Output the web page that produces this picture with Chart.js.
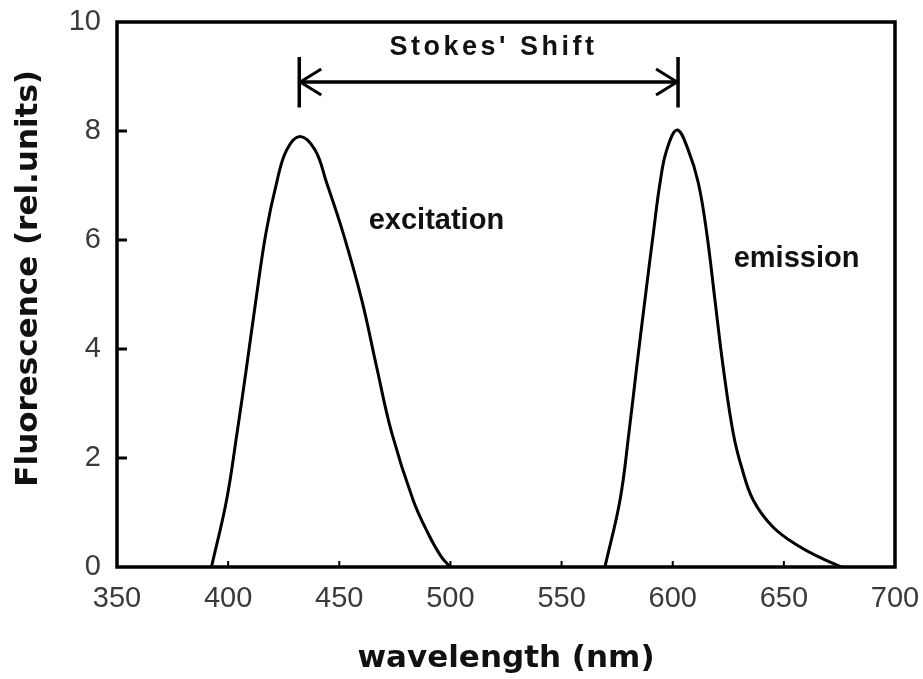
<!DOCTYPE html>
<html>
<head>
<meta charset="utf-8">
<title>Stokes' Shift</title>
<script src="https://cdn.jsdelivr.net/npm/chart.js@4.4.1/dist/chart.umd.min.js"></script>
<style>
  html, body { margin: 0; padding: 0; background: #fff; }
  #wrap { width: 923px; height: 679px; position: relative; }
</style>
</head>
<body>
<div id="wrap"><canvas id="chart1"></canvas></div>
<script>
// wavelength (nm) / fluorescence
const excitationNm = [392.5, 399.3, 404.0, 408.3, 412.5, 417.0, 421.8, 426.3, 432.3, 439.1, 444.3, 451.7, 460.1, 466.8, 473.6, 483.2, 489.9, 496.0, 500.0];
const excitationF  = [0, 1.23, 2.46, 3.67, 4.90, 6.13, 7.05, 7.65, 7.90, 7.65, 7.05, 6.13, 4.90, 3.67, 2.46, 1.23, 0.62, 0.18, 0];

const emissionNm = [569.5, 576.3, 580.3, 583.8, 587.5, 591.3, 594.3, 597.3, 602.0, 607.0, 611.5, 615.3, 619.0, 622.7, 627.2, 631.0, 636.2, 645.2, 657.2, 667.6, 676.0];
const emissionF  = [0, 1.23, 2.46, 3.67, 4.90, 6.13, 7.05, 7.65, 8.02, 7.65, 7.05, 6.13, 4.90, 3.67, 2.46, 1.83, 1.23, 0.73, 0.37, 0.15, 0];

// axes
const xRange = [350, 700];
const yRange = [0, 10];
const xStep = 50;
const yStep = 2;

// annotations (data units)
const shiftNm = [432, 602.4];
const shiftF = 8.9;
const shiftBarF = [8.43, 9.36];
const shiftText = "Stokes' Shift";
const shiftTextPos = [518.5, 9.54];
const curveLabels = ['excitation', 'emission'];
const curveLabelNm = [493.7, 655.7];
const curveLabelF = [6.35, 5.65];

function pts(xs, ys) {
    return xs.map((v, i) => ({ x: v, y: ys[i] }));
}

const decor = {
    id: 'decor',
    afterDatasetsDraw(chart) {
        const { ctx, chartArea: a, scales: { x, y } } = chart;
        ctx.save();
        ctx.strokeStyle = '#000';
        ctx.lineCap = 'butt';

        // inward ticks
        ctx.lineWidth = 3;
        y.ticks.forEach(t => {
            if (t.value <= yRange[0] || t.value >= yRange[1]) return;
            const py = y.getPixelForValue(t.value);
            ctx.beginPath(); ctx.moveTo(a.left, py); ctx.lineTo(a.left + 10, py); ctx.stroke();
        });
        ctx.lineWidth = 2;
        x.ticks.forEach(t => {
            if (t.value <= xRange[0] || t.value >= xRange[1]) return;
            const px = x.getPixelForValue(t.value);
            ctx.beginPath(); ctx.moveTo(px, a.bottom); ctx.lineTo(px, a.bottom - 6); ctx.stroke();
        });

        // frame
        ctx.lineWidth = 3.5;
        ctx.strokeRect(a.left, a.top, a.right - a.left, a.bottom - a.top);

        // Stokes' shift arrow
        const x1 = x.getPixelForValue(shiftNm[0]);
        const x2 = x.getPixelForValue(shiftNm[1]);
        const ya = y.getPixelForValue(shiftF);
        const yb0 = y.getPixelForValue(shiftBarF[0]);
        const yb1 = y.getPixelForValue(shiftBarF[1]);
        ctx.lineWidth = 3.5;
        ctx.beginPath();
        ctx.moveTo(x1, ya); ctx.lineTo(x2, ya);
        ctx.moveTo(x1, yb0); ctx.lineTo(x1, yb1);
        ctx.moveTo(x2, yb0); ctx.lineTo(x2, yb1);
        ctx.stroke();
        ctx.lineWidth = 3;
        ctx.beginPath();
        ctx.moveTo(x1 + 22, ya - 13); ctx.lineTo(x1 + 1, ya); ctx.lineTo(x1 + 22, ya + 13);
        ctx.moveTo(x2 - 22, ya - 13); ctx.lineTo(x2 - 1, ya); ctx.lineTo(x2 - 22, ya + 13);
        ctx.stroke();

        // texts
        ctx.fillStyle = '#111';
        ctx.textAlign = 'center';
        ctx.textBaseline = 'middle';
        ctx.font = 'bold 27px "Liberation Sans", Arial, sans-serif';
        ctx.letterSpacing = '3.5px';
        ctx.fillText(shiftText, x.getPixelForValue(shiftTextPos[0]) + 2, y.getPixelForValue(shiftTextPos[1]));
        ctx.letterSpacing = '0px';
        ctx.font = 'bold 29px "Liberation Sans", Arial, sans-serif';
        curveLabels.forEach((s, i) => {
            ctx.fillText(s, x.getPixelForValue(curveLabelNm[i]), y.getPixelForValue(curveLabelF[i]));
        });
        ctx.restore();
    }
};

const lineStyle = {
    borderColor: '#000',
    borderWidth: 3,
    pointRadius: 0,
    fill: false,
    tension: 0.4
};

new Chart(document.getElementById('chart1'), {
    type: 'line',
    data: {
        datasets: [
            { label: 'excitation', data: pts(excitationNm, excitationF), ...lineStyle },
            { label: 'emission', data: pts(emissionNm, emissionF), ...lineStyle }
        ]
    },
    options: {
        responsive: true,
        maintainAspectRatio: false,
        animation: false,
        layout: { padding: { left: 0, top: 22, right: 28, bottom: 0 } },
        plugins: { legend: { display: false }, tooltip: { enabled: false } },
        scales: {
            x: {
                type: 'linear',
                min: xRange[0], max: xRange[1],
                grid: { display: false, drawTicks: false },
                border: { display: false },
                ticks: {
                    stepSize: xStep, padding: 15, color: '#3a3a3a',
                    font: { family: '"Liberation Sans", Arial, sans-serif', size: 29 }
                },
                title: {
                    display: true, text: 'wavelength (nm)', color: '#111',
                    font: { family: '"DejaVu Sans", sans-serif', size: 31, weight: 'bold' },
                    padding: { top: 0, bottom: 1 }
                },
                afterFit(scale) {
                    scale.height = 112;
                    scale.paddingLeft = 0;
                    scale.paddingRight = 0;
                }
            },
            y: {
                min: yRange[0], max: yRange[1],
                grid: { display: false, drawTicks: false },
                border: { display: false },
                ticks: {
                    stepSize: yStep, padding: 16, color: '#3a3a3a',
                    font: { family: '"Liberation Sans", Arial, sans-serif', size: 29 }
                },
                title: {
                    display: true, text: '   Fluorescence (rel.units)', color: '#111',
                    font: { family: '"DejaVu Sans", sans-serif', size: 31, weight: 'bold' },
                    padding: { top: 10, bottom: 0 }
                },
                afterFit(scale) {
                    scale.width = 117;
                    scale.paddingTop = 0;
                    scale.paddingBottom = 0;
                }
            }
        }
    },
    plugins: [decor]
});
</script>
</body>
</html>
